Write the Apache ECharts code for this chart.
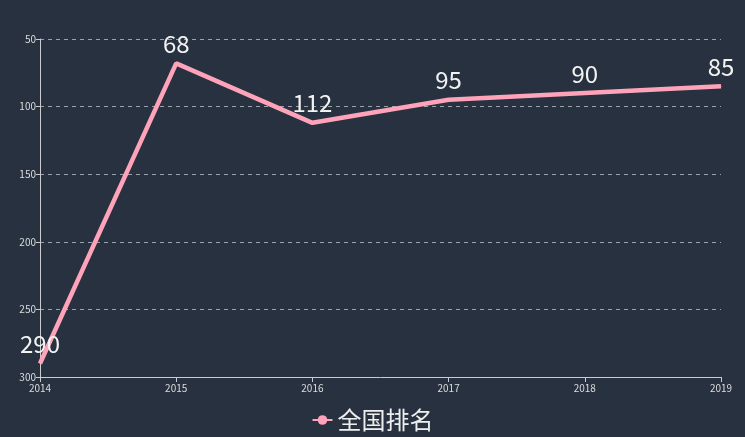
<!DOCTYPE html>
<html>
<head>
<meta charset="utf-8">
<script src="https://cdn.jsdelivr.net/npm/echarts@6/dist/echarts.min.js"></script>
<style>
html,body{margin:0;padding:0;background:#27313f;}
#main{width:745px;height:437px;}
</style>
</head>
<body>
<div id="main"></div>
<script>
var years = ['2014', '2015', '2016', '2017', '2018', '2019'];
var ranks = [290, 68, 112, 95, 90, 85];
var seriesName = '全国排名';

var chart = echarts.init(document.getElementById('main'));
chart.setOption({
	backgroundColor: '#27313f',
	textStyle: {fontFamily: '"Noto Sans CJK SC", "Noto Sans", sans-serif'},
	grid: {left: 40, right: 24, top: 39, bottom: 60},
	legend: {
		bottom: 0,
		left: 'center',
		data: [seriesName],
		itemWidth: 20,
		itemHeight: 12,
		itemGap: 6,
		textStyle: {color: '#eeeeee', fontSize: 24}
	},
	xAxis: {
		type: 'category',
		data: years,
		boundaryGap: false,
		axisLine: {lineStyle: {color: '#cccccc'}},
		axisTick: {show: true, alignWithLabel: true, lineStyle: {color: '#cccccc'}},
		axisLabel: {color: '#dddddd', fontSize: 10, margin: 6}
	},
	yAxis: {
		type: 'value',
		inverse: true,
		min: 50,
		max: 300,
		interval: 50,
		axisLine: {show: true, lineStyle: {color: '#cccccc'}},
		axisTick: {show: true, length: 4, lineStyle: {color: '#cccccc'}},
		axisLabel: {color: '#dddddd', fontSize: 10, margin: 4},
		splitLine: {lineStyle: {color: '#9aa3ad', type: [4, 4]}}
	},
	series: [{
		name: seriesName,
		type: 'line',
		data: ranks,
		showSymbol: true,
		symbol: 'circle',
		symbolSize: 1,
		itemStyle: {color: '#ffa3ba'},
		lineStyle: {color: '#ffa3ba', width: 4.5},
		label: {show: true, position: 'top', color: '#f2f2f2', fontSize: 24, distance: 7}
	}]
});
</script>
</body>
</html>
